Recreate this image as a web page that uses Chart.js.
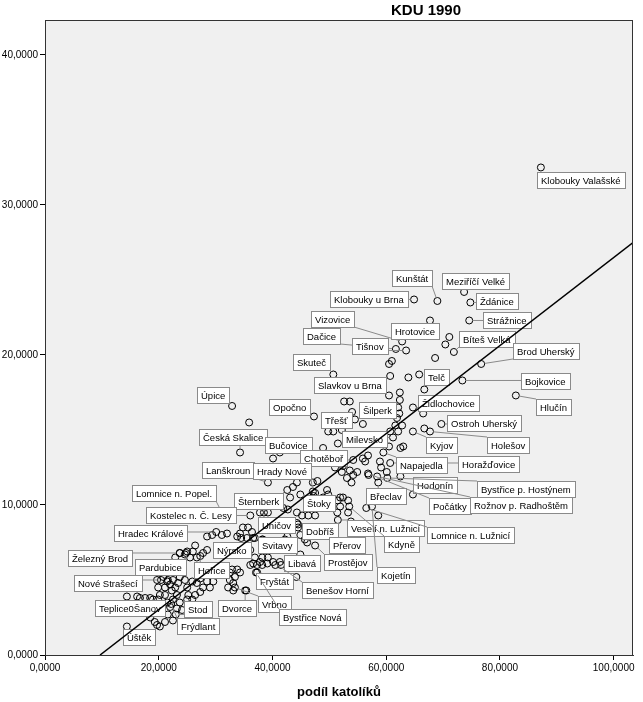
<!DOCTYPE html>
<html>
<head>
<meta charset="utf-8">
<script src="https://cdn.jsdelivr.net/npm/chart.js@4.4.1/dist/chart.umd.min.js"></script>
<style>
  html, body { margin: 0; padding: 0; background: #fff; }
  #wrap { width: 643px; height: 702px; }
</style>
</head>
<body>
<div id="wrap"><canvas id="myChart" width="643" height="702"></canvas></div>
<script>
// Labelled municipalities (podíl katolíků vs. KDU 1990).
const labeledNames = ['Klobouky Valašské','Meziříčí Velké','Ždánice','Klobouky u Brna','Kunštát','Strážnice','Vizovice','Hrotovice','Dačice','Tišnov','Bíteš Velká','Brod Uherský','Skuteč','Telč','Slavkov u Brna','Bojkovice','Hlučín','Šilperk','Židlochovice','Úpice','Opočno','Třešť','Česká Skalice','Bučovice','Milevsko','Kyjov','Ostroh Uherský','Holešov','Chotěboř','Horažďovice','Napajedla','Lanškroun','Hrady Nové','Hodonín','Bystřice p. Hostýnem','Lomnice n. Popel.','Šternberk','Štoky','Břeclav','Počátky','Rožnov p. Radhoštěm','Kostelec n. Č. Lesy','Uničov','Dobříš','Veselí n. Lužnicí','Lomnice n. Lužnicí','Hradec Králové','Nýrsko','Svitavy','Přerov','Kdyně','Železný Brod','Pardubice','Hořice','Libavá','Prostějov','Kojetín','Nové Strašecí','Fryštát','Benešov Horní','Teplice0Šanov','Stod','Dvorce','Vrbno','Bystřice Nová','Frýdlant','Úštěk'];
const labeledX = [87.2,73.7,74.8,64.9,69.0,74.6,62.8,67.7,61.7,63.5,71.9,76.7,50.7,66.7,60.5,73.4,82.8,62.3,64.7,32.9,47.3,54.5,34.3,41.3,61.2,64.7,69.7,67.7,54.2,60.7,59.5,39.2,47.1,64.7,60.2,31.1,42.6,47.5,58.6,56.8,58.4,36.1,37.8,44.5,51.5,56.5,30.1,34.5,38.2,49.3,53.5,23.7,25.0,27.3,41.5,47.5,57.5,20.4,44.2,40.1,19.3,23.0,35.2,33.4,37.1,22.2,14.4];
const labeledY = [32.5,24.2,23.5,23.7,23.6,22.3,20.9,22.3,20.4,20.3,20.2,19.4,18.7,17.7,17.3,18.3,17.3,16.1,16.5,16.6,15.9,15.7,13.5,13.5,14.5,14.9,15.4,14.9,13.0,12.8,13.5,11.5,10.9,10.7,11.8,9.5,11.0,10.8,11.5,12.1,11.9,9.3,9.5,8.7,9.0,9.8,8.2,7.8,7.7,8.0,9.9,6.8,6.9,6.6,6.0,7.3,9.9,5.0,5.2,6.2,3.2,2.7,4.3,4.5,5.5,3.4,1.9];

// Unlabelled municipalities.
const otherX = [70.4,71.1,68.6,61.0,60.5,60.7,63.9,65.8,62.4,62.4,52.6,53.6,54.0,66.5,55.9,62.1,61.9,62.8,61.6,60.7,62.1,66.7,50.7,49.8,51.5,48.9,60.5,63.0,56.8,55.9,58.9,52.4,51.0,40.1,35.9,46.3,51.4,52.2,54.9,54.2,59.1,47.1,43.6,44.3,49.6,51.5,52.4,53.3,51.9,51.4,43.1,44.9,41.9,42.7,41.0,44.3,45.2,46.3,47.5,34.8,33.8,44.5,46.6,50.3,44.9,45.7,42.6,46.1,36.1,36.9,38.2,39.2,36.1,37.3,38.2,37.3,34.3,40.5,33.4,33.1,32.9,32.5,36.6,37.8,39.1,41.3,36.9,38.3,35.7,34.3,38.5,39.2,28.5,29.4,31.1,32.0,36.4,35.5,36.6,26.0,24.6,22.9,25.5,26.7,27.8,28.5,26.4,21.5,22.0,22.9,23.7,24.6,25.0,25.9,26.7,27.3,28.5,29.6,27.8,29.0,29.9,30.8,32.5,33.8,32.2,33.1,18.5,17.6,16.7,19.0,19.9,20.2,21.1,21.5,22.5,23.7,25.2,26.4,27.3,25.0,25.9,22.0,23.2,18.5,19.3,20.2,21.1,20.6,21.6,22.5,24.1,14.4,16.2,23.2,19.7,20.8,21.6,22.5,23.4,19.9,21.1,22.3,19.7,23.7,24.8,35.4,38.9,44.3,44.9,43.4,48.9,50.1,53.8,60.1,56.3,53.6,56.9,53.9,53.1,51.9,53.3,58.6,48.9,62.5,62.5,52.2,47.9,49.8,47.2,40.5,42.2];
const otherY = [20.7,21.2,19.8,19.6,19.4,18.6,18.5,18.7,17.5,17.0,16.9,16.9,16.2,16.1,15.4,16.5,15.8,15.3,15.3,14.9,14.9,15.1,14.9,14.9,14.1,13.8,13.9,13.9,13.3,13.1,12.9,12.6,12.5,13.1,15.5,14.2,12.8,12.2,12.2,12.0,12.5,11.5,11.2,11.5,11.0,10.3,10.5,10.3,9.9,9.5,10.5,10.7,9.8,9.7,10.1,9.5,9.3,9.3,9.3,8.5,7.9,8.5,7.9,7.9,8.0,7.7,7.9,7.5,7.0,6.5,6.5,6.5,6.0,6.0,6.0,5.5,5.5,6.0,5.2,4.8,5.7,5.0,6.1,6.2,6.1,6.2,7.8,7.7,8.5,8.1,9.5,9.5,7.9,8.0,8.0,8.1,8.2,7.8,7.8,6.9,6.7,6.5,6.5,6.5,6.8,7.0,7.3,4.9,4.7,4.5,5.2,5.0,4.5,4.9,4.8,5.1,4.9,4.9,4.5,4.5,5.3,5.5,5.5,5.7,4.5,4.3,3.8,3.8,3.8,3.7,3.7,4.0,4.0,3.5,3.7,3.5,4.0,4.0,4.2,3.7,3.7,3.2,3.1,2.5,2.2,1.9,2.2,2.9,2.7,2.3,3.0,3.9,3.9,4.0,5.0,5.2,5.0,5.0,4.8,4.5,4.5,4.3,2.0,6.8,6.8,4.3,7.1,8.8,6.7,7.0,8.4,8.4,8.9,12.2,12.9,12.3,12.0,11.5,11.8,10.5,9.5,9.3,10.5,11.9,13.8,15.0,11.6,10.7,10.6,7.1,7.7];

// Linear fit line
const fitSlope = 0.2934;
const fitIntercept = -2.84;

// Axis ranges and tick steps
const xMin = 0, xMax = 103.4, xStep = 20;
const yMin = 0, yMax = 42.33, yStep = 10;

// Label box placement: pixel offset of the box's top-left corner from its point (layout only)
const labelOffsets = [[-4,5],[-22,-19],[6,-9],[-84,-8],[-45,-31],[14,-8],[-91,-30],[-39,3],[-93,-21],[-54,-12],[5,-21],[32,-21],[-40,-20],[0,-20],[-75,-18],[59,-7],[20,4],[-40,-11],[5,-12],[-35,-19],[-45,-17],[-34,-7],[-41,-23],[-15,-15],[-51,-6],[13,6],[6,-9],[57,6],[-53,-10],[68,-7],[13,5],[-66,-20],[-60,-28],[0,-17],[90,3],[-90,-27],[-53,3],[-12,2],[-12,6],[61,25],[93,21],[-104,-8],[-2,5],[4,-1],[9,0],[61,19],[-102,-7],[-28,4],[-4,-2],[4,2],[35,30],[-112,-3],[-52,8],[-6,6],[3,-10],[9,9],[5,61],[-87,-5],[-40,-4],[29,20],[-60,-7],[8,-13],[-27,10],[23,9],[23,37],[6,14],[-4,3]];

const fmt = v => v.toFixed(4).replace('.', ',');

const allPoints = labeledX.map((x, i) => ({x: x, y: labeledY[i]}))
  .concat(otherX.map((x, i) => ({x: x, y: otherY[i]})));

const xLo = -fitIntercept / fitSlope;
const fitPoints = [
  {x: xLo, y: fitSlope * xLo + fitIntercept},
  {x: xMax, y: fitSlope * xMax + fitIntercept}
];

// background of the plot area + frame + chart title
const framePlugin = {
  id: 'frame',
  beforeDraw(chart) {
    const {ctx, chartArea: a} = chart;
    ctx.save();
    ctx.fillStyle = '#ffffff';
    ctx.fillRect(0, 0, chart.width, chart.height);
    ctx.fillStyle = '#f0f0f0';
    ctx.fillRect(a.left, a.top, a.right - a.left, a.bottom - a.top);
    ctx.restore();
  },
  afterDraw(chart) {
    const {ctx, chartArea: a} = chart;
    ctx.save();
    ctx.strokeStyle = '#333';
    ctx.lineWidth = 1;
    ctx.strokeRect(a.left + 0.5, a.top + 0.5, a.right - a.left - 1, a.bottom - a.top);
    ctx.fillStyle = '#000';
    ctx.font = 'bold 15px "Liberation Sans", Arial, sans-serif';
    ctx.textAlign = 'center';
    ctx.textBaseline = 'middle';
    ctx.fillText('KDU 1990', 426, 11);
    ctx.restore();
  }
};

// point labels with leader lines (drawn after the points, before the fit line)
const labelPlugin = {
  id: 'cityLabels',
  afterDatasetDraw(chart, args) {
    if (args.index !== 1) return;
    const ctx = chart.ctx, xs = chart.scales.x, ys = chart.scales.y;
    ctx.save();
    ctx.font = '9.5px "Liberation Sans", Arial, sans-serif';
    ctx.textBaseline = 'middle';
    ctx.textAlign = 'left';
    const h = 16;
    labeledNames.forEach((name, i) => {
      const px = xs.getPixelForValue(labeledX[i]);
      const py = ys.getPixelForValue(labeledY[i]);
      const bx = Math.round(px + labelOffsets[i][0]);
      const by = Math.round(py + labelOffsets[i][1]);
      const w = Math.round(ctx.measureText(name).width + 8);
      // leader line to nearest edge of the box
      const cx = Math.max(bx, Math.min(px, bx + w));
      const cy = Math.max(by, Math.min(py, by + h));
      const d = Math.hypot(cx - px, cy - py);
      if (d > 5) {
        ctx.strokeStyle = '#8a8a8a';
        ctx.lineWidth = 1;
        ctx.beginPath();
        ctx.moveTo(px + (cx - px) / d * 3.5, py + (cy - py) / d * 3.5);
        ctx.lineTo(cx, cy);
        ctx.stroke();
      }
      ctx.fillStyle = '#ffffff';
      ctx.fillRect(bx, by, w, h);
      ctx.strokeStyle = '#8a8a8a';
      ctx.lineWidth = 1;
      ctx.strokeRect(bx + 0.5, by + 0.5, w, h);
      ctx.fillStyle = '#000';
      ctx.fillText(name, bx + 4, by + h / 2 + 1);
    });
    ctx.restore();
  }
};

document.addEventListener('DOMContentLoaded', () => {
  const ctx = document.getElementById('myChart').getContext('2d');
  Chart.defaults.font.family = '"Liberation Sans", Arial, sans-serif';
  Chart.defaults.color = '#000';

  new Chart(ctx, {
    type: 'scatter',
    data: {
      datasets: [{
        type: 'line',
        label: 'fit',
        data: fitPoints,
        borderColor: '#000',
        borderWidth: 1.5,
        pointRadius: 0,
        fill: false
      }, {
        label: 'obce',
        data: allPoints,
        borderColor: '#000',
        backgroundColor: 'rgba(0,0,0,0)',
        pointRadius: 3.5,
        borderWidth: 1
      }]
    },
    options: {
      responsive: false,
      animation: false,
      devicePixelRatio: 1,
      layout: { padding: { top: 20, right: 10, left: 0, bottom: 0 } },
      plugins: {
        legend: { display: false },
        tooltip: { enabled: false },
        title: { display: false }
      },
      scales: {
        x: {
          type: 'linear',
          position: 'bottom',
          min: xMin,
          max: xMax,
          afterFit: s => { s.height = 47; },
          grid: { drawOnChartArea: false, drawTicks: true, tickLength: 5, color: '#000' },
          border: { display: true, color: '#333' },
          ticks: {
            stepSize: xStep,
            includeBounds: false,
            autoSkip: false,
            maxRotation: 0,
            padding: 2,
            font: { size: 10 },
            callback: v => fmt(v)
          },
          title: {
            display: true,
            text: 'podíl katolíků',
            font: { size: 13, weight: 'bold' },
            padding: { top: 4, bottom: 2 }
          }
        },
        y: {
          type: 'linear',
          min: yMin,
          max: yMax,
          afterFit: s => { s.width = 45; },
          grid: { drawOnChartArea: false, drawTicks: true, tickLength: 5, color: '#000' },
          border: { display: true, color: '#333' },
          ticks: {
            stepSize: yStep,
            includeBounds: false,
            autoSkip: false,
            padding: 2,
            font: { size: 10 },
            callback: v => fmt(v)
          }
        }
      }
    },
    plugins: [framePlugin, labelPlugin]
  });
});
</script>
</body>
</html>
